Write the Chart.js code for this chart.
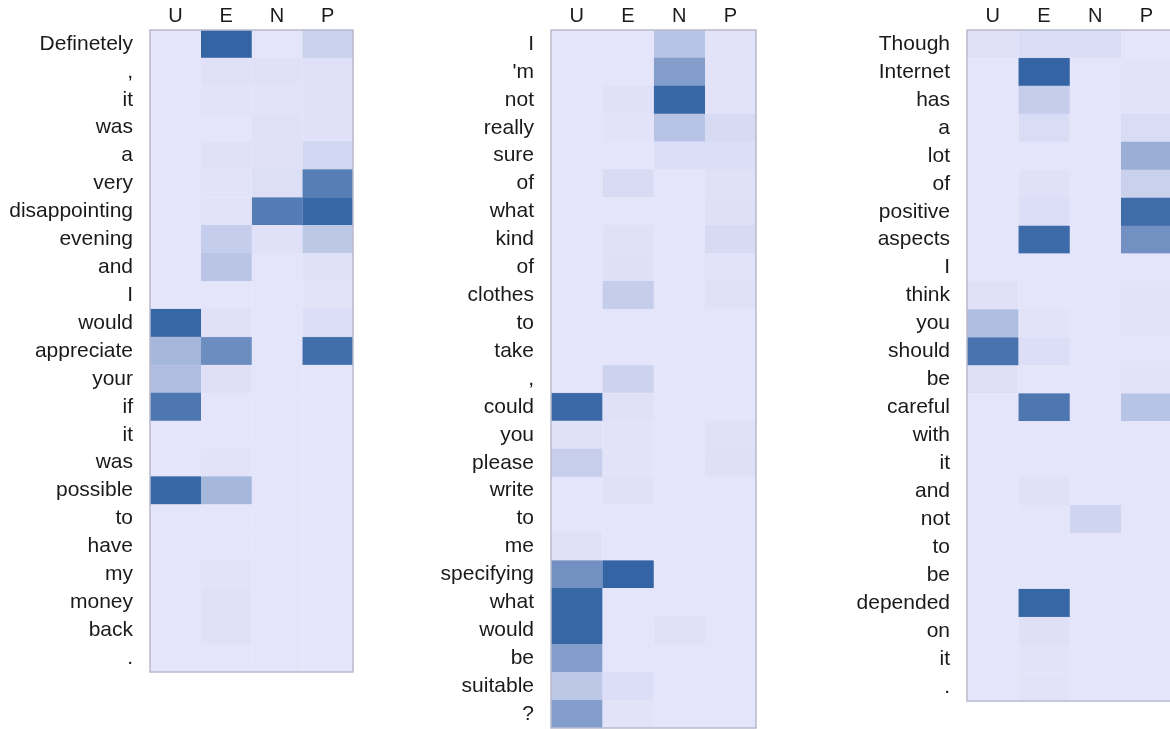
<!DOCTYPE html>
<html>
<head>
<meta charset="utf-8">
<script src="https://cdn.jsdelivr.net/npm/chart.js@4"></script>
<style>
  html, body { margin: 0; padding: 0; background: #fff; overflow: hidden; }
  body { width: 1170px; height: 729px; position: relative; }
  .panel { position: absolute; top: 0; height: 729px; }
</style>
</head>
<body>
<div class="panel" style="left:0;width:360px"><canvas id="c1"></canvas></div>
<div class="panel" style="left:400px;width:370px"><canvas id="c2"></canvas></div>
<div class="panel" style="left:800px;width:380px"><canvas id="c3"></canvas></div>
<script>
// column labels (top axis)
const cols = ['U', 'E', 'N', 'P'];

// sentence 1
const tokens1 = ['Definetely', ',', 'it', 'was', 'a', 'very', 'disappointing', 'evening', 'and', 'I',
  'would', 'appreciate', 'your', 'if', 'it', 'was', 'possible', 'to', 'have', 'my', 'money', 'back', '.'];
const weights1 = [
  [0, 1.0, 0, 0.15], [0, 0.02, 0.02, 0.02], [0, 0.01, 0.01, 0.02], [0, 0, 0.02, 0.02],
  [0, 0.02, 0.02, 0.10], [0, 0.01, 0.04, 0.80], [0, 0.01, 0.82, 0.97], [0, 0.18, 0.02, 0.22],
  [0, 0.24, 0, 0.02], [0, 0, 0, 0.01], [0.98, 0.02, 0, 0.05], [0.35, 0.68, 0, 0.92],
  [0.30, 0.03, 0, 0], [0.85, 0, 0, 0], [0, 0, 0, 0], [0, 0.01, 0, 0],
  [0.97, 0.35, 0, 0], [0, 0, 0, 0], [0, 0, 0, 0], [0, 0.01, 0, 0],
  [0, 0.02, 0, 0], [0, 0.02, 0, 0], [0, 0, 0, 0]
];

// sentence 2
const tokens2 = ['I', "'m", 'not', 'really', 'sure', 'of', 'what', 'kind', 'of', 'clothes', 'to', 'take', ',',
  'could', 'you', 'please', 'write', 'to', 'me', 'specifying', 'what', 'would', 'be', 'suitable', '?'];
const weights2 = [
  [0, 0, 0.25, 0.01], [0, 0, 0.55, 0.01], [0, 0.02, 0.97, 0.01], [0, 0.01, 0.25, 0.08],
  [0, 0, 0.05, 0.05], [0, 0.07, 0, 0.02], [0, 0, 0, 0.03], [0, 0.02, 0, 0.08],
  [0, 0.03, 0, 0.01], [0, 0.18, 0, 0.02], [0, 0, 0, 0], [0, 0, 0, 0],
  [0, 0.13, 0, 0], [0.96, 0.02, 0, 0], [0.02, 0.01, 0, 0.02], [0.17, 0.01, 0, 0.03],
  [0, 0.02, 0, 0], [0, 0, 0, 0], [0.02, 0, 0, 0], [0.65, 1.0, 0, 0],
  [0.98, 0, 0, 0], [0.98, 0, 0.02, 0], [0.55, 0, 0, 0], [0.22, 0.05, 0, 0],
  [0.55, 0.01, 0, 0]
];

// sentence 3
const tokens3 = ['Though', 'Internet', 'has', 'a', 'lot', 'of', 'positive', 'aspects', 'I', 'think', 'you',
  'should', 'be', 'careful', 'with', 'it', 'and', 'not', 'to', 'be', 'depended', 'on', 'it', '.'];
const weights3 = [
  [0.02, 0.06, 0.06, 0], [0, 1.0, 0, 0.01], [0, 0.18, 0, 0.01], [0, 0.06, 0, 0.06],
  [0, 0, 0, 0.42], [0, 0.02, 0, 0.15], [0, 0.05, 0, 0.93], [0, 0.95, 0, 0.65],
  [0, 0, 0, 0], [0.02, 0, 0, 0.01], [0.30, 0.01, 0, 0.01], [0.88, 0.05, 0, 0],
  [0.03, 0, 0, 0.01], [0, 0.85, 0, 0.25], [0, 0, 0, 0], [0, 0, 0, 0],
  [0, 0.02, 0, 0], [0, 0, 0.12, 0], [0, 0, 0, 0], [0, 0, 0, 0],
  [0, 0.98, 0, 0], [0, 0.03, 0, 0], [0, 0.01, 0, 0], [0, 0.01, 0, 0]
];

const light = [228, 228, 250];
const dark = [52, 100, 164];
function cellColor(v) {
  const c = light.map((l, k) => Math.round(l + (dark[k] - l) * v));
  return 'rgb(' + c.join(',') + ')';
}

const frame = {
  id: 'frame',
  afterDraw(chart) {
    const a = chart.chartArea;
    const ctx = chart.ctx;
    ctx.save();
    ctx.strokeStyle = '#b9b9cc';
    ctx.lineWidth = 1.5;
    ctx.strokeRect(a.left, a.top, a.right - a.left, a.bottom - a.top);
    ctx.restore();
  }
};

function makeHeatmap(id, tokens, weights, axisWidth, padRight, padBottom) {
  const datasets = cols.map((c, j) => ({
    label: c,
    data: tokens.map(() => 1),
    backgroundColor: weights.map(row => cellColor(row[j])),
    borderColor: weights.map(row => cellColor(row[j])),
    borderWidth: 0.5,
    barPercentage: 1,
    categoryPercentage: 1
  }));
  return new Chart(document.getElementById(id), {
    type: 'bar',
    data: { labels: tokens, datasets: datasets },
    plugins: [frame],
    options: {
      indexAxis: 'y',
      responsive: true,
      maintainAspectRatio: false,
      animation: false,
      layout: { padding: { left: 0, top: 0, right: padRight, bottom: padBottom } },
      plugins: { legend: { display: false }, tooltip: { enabled: false } },
      scales: {
        x: {
          type: 'linear',
          position: 'top',
          stacked: true,
          min: 0,
          max: 4,
          grid: { display: false, drawTicks: false },
          border: { display: false },
          afterBuildTicks: axis => { axis.ticks = cols.map((c, i) => ({ value: i + 0.5 })); },
          afterFit: axis => { axis.height = 30; axis.paddingLeft = 0; axis.paddingRight = 0; },
          ticks: {
            autoSkip: false,
            maxRotation: 0,
            padding: 2,
            color: '#1a1a1a',
            font: { family: 'Liberation Sans', size: 20 },
            callback: (v, i) => cols[i]
          }
        },
        y: {
          stacked: true,
          grid: { display: false, drawTicks: false },
          border: { display: false },
          afterFit: axis => { axis.width = axisWidth; axis.paddingTop = 0; axis.paddingBottom = 0; },
          ticks: {
            autoSkip: false,
            padding: 17,
            color: '#1a1a1a',
            font: { family: 'Liberation Sans', size: 21 }
          }
        }
      }
    }
  });
}

makeHeatmap('c1', tokens1, weights1, 150, 7, 57);
makeHeatmap('c2', tokens2, weights2, 151, 14, 1);
makeHeatmap('c3', tokens3, weights3, 167, 8, 28);
</script>
</body>
</html>
